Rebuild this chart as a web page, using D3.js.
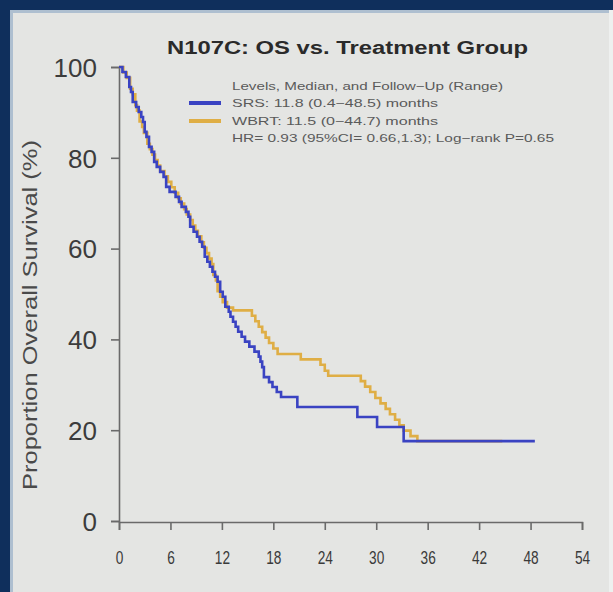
<!DOCTYPE html>
<html>
<head>
<meta charset="utf-8">
<script src="https://cdn.jsdelivr.net/npm/d3@7"></script>
<style>
  html, body { margin: 0; padding: 0; background: #e4e5e3; }
  svg { display: block; }
  text { font-family: "Liberation Sans", Arial, sans-serif; }
</style>
</head>
<body>
<svg id="chart" width="613" height="592"></svg>
<script>
// Kaplan–Meier steps: [months, survival % after the event]
const srsSteps = [
  [0, 100], [0.4, 98.9], [0.8, 97.8], [1.2, 95.6], [1.4, 94.5], [1.6, 92.3], [2.0, 91.2],
  [2.3, 90.1], [2.6, 89.0], [2.8, 87.9], [3.0, 85.7], [3.2, 84.6], [3.5, 82.4], [3.8, 81.3],
  [4.1, 79.1], [4.4, 78.0], [4.8, 76.9], [5.2, 75.8], [5.5, 73.6], [5.9, 72.5], [6.6, 71.4],
  [7.0, 70.3], [7.3, 69.2], [7.8, 68.1], [8.1, 67.0], [8.3, 64.8], [8.7, 63.7], [9.1, 62.6],
  [9.4, 61.5], [9.7, 60.4], [10.0, 58.2], [10.3, 57.1], [10.6, 56.0], [10.9, 54.9],
  [11.2, 53.8], [11.5, 52.7], [11.8, 50.5], [12.1, 49.4], [12.4, 47.2], [12.8, 46.1],
  [13.0, 45.0], [13.3, 43.9], [13.6, 42.8], [13.9, 41.7], [14.3, 40.6], [14.7, 39.5],
  [15.2, 38.4], [15.8, 37.3], [16.3, 36.2], [16.5, 35.1], [16.7, 33.9], [16.9, 31.7],
  [17.5, 30.6], [17.9, 29.5], [18.4, 28.4], [18.9, 27.3], [20.8, 25.1], [27.8, 22.9],
  [30.1, 20.7], [33.2, 17.6], [48.5, 17.6]
];
const wbrtSteps = [
  [0, 100], [0.5, 98.8], [0.9, 97.6], [1.3, 95.2], [1.6, 94.0], [1.9, 91.6], [2.1, 90.4],
  [2.4, 88.0], [2.7, 86.8], [2.9, 85.5], [3.3, 83.1], [3.6, 81.9], [3.9, 80.7], [4.2, 79.5],
  [4.5, 78.3], [4.8, 77.1], [5.3, 75.9], [5.7, 74.7], [6.1, 73.5], [6.5, 72.3], [6.9, 71.1],
  [7.2, 69.9], [7.6, 68.7], [7.9, 67.5], [8.3, 66.3], [8.6, 65.1], [8.9, 63.9], [9.2, 62.7],
  [9.6, 61.4], [9.9, 60.2], [10.2, 59.0], [10.5, 57.8], [10.8, 56.6], [11.0, 54.2],
  [11.3, 53.0], [11.5, 50.6], [11.8, 49.4], [12.1, 48.2], [12.6, 47.0], [13.3, 46.4],
  [15.5, 45.2], [15.9, 44.0], [16.3, 42.8], [16.7, 41.6], [17.1, 40.4], [17.5, 39.2],
  [18.0, 38.0], [18.5, 36.8], [21.2, 35.6], [23.5, 34.4], [24.0, 33.1], [24.4, 32.0],
  [28.2, 30.8], [28.7, 29.6], [29.3, 28.4], [29.9, 27.1], [30.5, 25.9], [31.1, 24.7],
  [31.6, 23.5], [32.2, 22.3], [32.7, 21.1], [33.2, 19.9], [34.0, 18.7], [34.8, 17.6],
  [44.7, 17.6]
];
const xTicks = [0, 6, 12, 18, 24, 30, 36, 42, 48, 54];
const yTicks = [0, 20, 40, 60, 80, 100];
const titleText = "N107C: OS vs. Treatment Group";
const yLabel = "Proportion Overall Survival (%)";
const legendHeader = "Levels, Median, and Follow\u2212Up (Range)";
const legendRows = ["SRS:   11.8 (0.4\u221248.5) months", "WBRT:   11.5 (0\u221244.7) months"];
const statsText = "HR= 0.93  (95%CI= 0.66,1.3); Log\u2212rank P=0.65";

const svg = d3.select("#chart");
const W = 613, H = 592;

// slide background and frame
svg.append("rect").attr("width", W).attr("height", H).attr("fill", "#e4e5e3");
svg.append("rect").attr("x", 0).attr("y", 0).attr("width", W).attr("height", 10).attr("fill", "#0f2f5c");
svg.append("rect").attr("x", 0).attr("y", 10).attr("width", W).attr("height", 3).attr("fill", "#aebfd0");
svg.append("rect").attr("x", 0).attr("y", 0).attr("width", 10).attr("height", H).attr("fill", "#0f2f5c");
svg.append("rect").attr("x", 10).attr("y", 10).attr("width", 3).attr("height", H).attr("fill", "#aebfd0");
svg.append("rect").attr("x", W - 4).attr("y", 10).attr("width", 4).attr("height", H).attr("fill", "#eef0ef");

const margin = { left: 119, top: 67, right: 31, bottom: 71 };
const x = d3.scaleLinear().domain([0, 54]).range([margin.left, W - margin.right]);
const y = d3.scaleLinear().domain([0, 100]).range([H - margin.bottom, margin.top]);

const axisColor = "#6a6a6a";

// axes
const gx = svg.append("g").attr("transform", `translate(0,${y(0) + 1})`)
  .call(d3.axisBottom(x).tickValues(xTicks).tickSize(8).tickSizeOuter(8).tickPadding(21));
const gy = svg.append("g").attr("transform", `translate(${x(0)},0)`)
  .call(d3.axisLeft(y).tickValues(yTicks).tickSize(8).tickSizeOuter(8).tickPadding(14));

[gx, gy].forEach(g => {
  g.select(".domain").attr("stroke", axisColor).attr("stroke-width", 1.6);
  g.selectAll(".tick line").attr("stroke", axisColor).attr("stroke-width", 1.6);
});
// narrow, tall month labels
gx.selectAll(".tick text").attr("fill", "#3a3a3a").style("font-size", "19px")
  .attr("transform", "scale(0.72,1)");
gy.selectAll(".tick text").attr("fill", "#3c3c3c").style("font-size", "26px").attr("dy", "0.36em");

// survival curves
const line = d3.line().x(d => x(d[0])).y(d => y(d[1])).curve(d3.curveStepAfter);
svg.append("path").datum(wbrtSteps).attr("d", line)
  .attr("fill", "none").attr("stroke", "#dfae45").attr("stroke-width", 2.6);
svg.append("path").datum(srsSteps).attr("d", line)
  .attr("fill", "none").attr("stroke", "#3a43c2").attr("stroke-width", 2.6);

// title
svg.append("text").attr("x", 167).attr("y", 54)
  .attr("textLength", 361).attr("lengthAdjust", "spacingAndGlyphs")
  .style("font-size", "18px").style("font-weight", "bold").attr("fill", "#2a2a2a")
  .text(titleText);

// y-axis title
svg.append("text").attr("transform", "translate(37,315) rotate(-90)")
  .attr("text-anchor", "middle").attr("textLength", 350).attr("lengthAdjust", "spacingAndGlyphs")
  .style("font-size", "20px").attr("fill", "#4a4a4a").text(yLabel);

// legend
const lg = svg.append("g").attr("fill", "#5a5a5a");
lg.append("text").attr("x", 232).attr("y", 90).attr("textLength", 271)
  .attr("lengthAdjust", "spacingAndGlyphs").style("font-size", "11px").text(legendHeader);
const swatchColors = ["#3a43c2", "#dfae45"];
legendRows.forEach((t, i) => {
  const yy = 103 + i * 18;
  lg.append("line").attr("x1", 189).attr("x2", 221).attr("y1", yy).attr("y2", yy)
    .attr("stroke", swatchColors[i]).attr("stroke-width", 4);
  lg.append("text").attr("x", 232).attr("y", yy + 4).attr("textLength", 206)
    .attr("lengthAdjust", "spacingAndGlyphs").style("font-size", "11px").text(t);
});
lg.append("text").attr("x", 232).attr("y", 142).attr("textLength", 322)
  .attr("lengthAdjust", "spacingAndGlyphs").style("font-size", "11px").text(statsText);
</script>
</body>
</html>
